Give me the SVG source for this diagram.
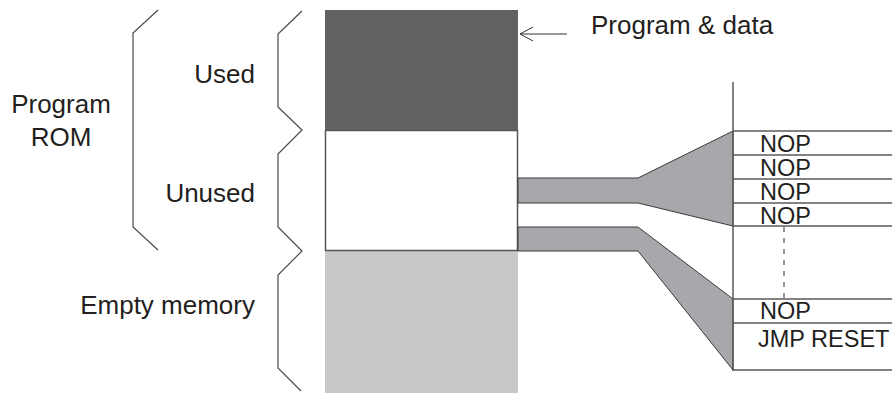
<svg xmlns="http://www.w3.org/2000/svg" width="892" height="393" viewBox="0 0 892 393">
<style>
.t{font-family:"Liberation Sans",Arial,sans-serif;fill:#231f20;font-size:26px}
.s{font-family:"Liberation Sans",Arial,sans-serif;fill:#231f20;font-size:23.5px}
.br{fill:none;stroke:#4a4a4a;stroke-width:1.2}
.ln{stroke:#5a5a5a;stroke-width:1.5;fill:none}
.band{fill:#a7a8ab;stroke:#3a3a3a;stroke-width:1}
</style>
<defs>
<marker id="open" markerWidth="16" markerHeight="16" refX="14" refY="8" orient="auto" markerUnits="userSpaceOnUse">
<path d="M1,1 L14,8 L1,15" fill="none" stroke="#333" stroke-width="1"/>
</marker>
</defs>
<g id="labels">
<text class="t" x="61" y="113" text-anchor="middle">Program</text>
<text class="t" x="61" y="146" text-anchor="middle">ROM</text>
<text class="t" x="255" y="83" text-anchor="end">Used</text>
<text class="t" x="255" y="202" text-anchor="end">Unused</text>
<text class="t" x="255" y="314" text-anchor="end">Empty memory</text>
<text class="t" x="591" y="34">Program &amp; data</text>
</g>
<g id="braces">
<path class="br" d="M158,10 L133,33 L133,227 L158,250"/>
<path class="br" d="M302,11 L278,34 L278,107 L302,130 L278,154 L278,227 L302,251 L278,275 L278,368 L301,391"/>
</g>
<g id="memory">
<rect id="used" x="325" y="10" width="193" height="120" fill="#626264"/>
<rect id="empty" x="325" y="251" width="193" height="142" fill="#c7c8ca"/>
<rect id="unused" x="325.5" y="130.5" width="192" height="120" fill="#fff" stroke="#555" stroke-width="1.5"/>
</g>
<g id="connectors">
<path class="band" d="M518,178 L638,178 L733,131 L733,226 L638,203 L518,203 Z"/>
<path class="band" d="M518,227 L638,227 L733,299 L733,370 L638,251 L518,251 Z"/>
<line x1="567" y1="34" x2="520" y2="34" stroke="#333" stroke-width="1" marker-end="url(#open)"/>
</g>
<g id="table">
<line class="ln" x1="733" y1="82" x2="733" y2="371"/>
<line class="ln" x1="733" y1="131" x2="892" y2="131"/>
<line class="ln" x1="733" y1="155" x2="892" y2="155"/>
<line class="ln" x1="733" y1="179" x2="892" y2="179"/>
<line class="ln" x1="733" y1="203" x2="892" y2="203"/>
<line class="ln" x1="733" y1="226" x2="892" y2="226"/>
<line class="ln" x1="733" y1="299" x2="892" y2="299"/>
<line class="ln" x1="733" y1="323" x2="892" y2="323"/>
<line class="ln" x1="733" y1="370" x2="892" y2="370"/>
<line x1="784" y1="227" x2="784" y2="298" stroke="#333" stroke-width="1" stroke-dasharray="5,6"/>
<text class="s" x="760" y="152">NOP</text>
<text class="s" x="760" y="176">NOP</text>
<text class="s" x="760" y="200">NOP</text>
<text class="s" x="760" y="224">NOP</text>
<text class="s" x="760" y="319">NOP</text>
<text class="s" x="758" y="347">JMP RESET</text>
</g>
</svg>
